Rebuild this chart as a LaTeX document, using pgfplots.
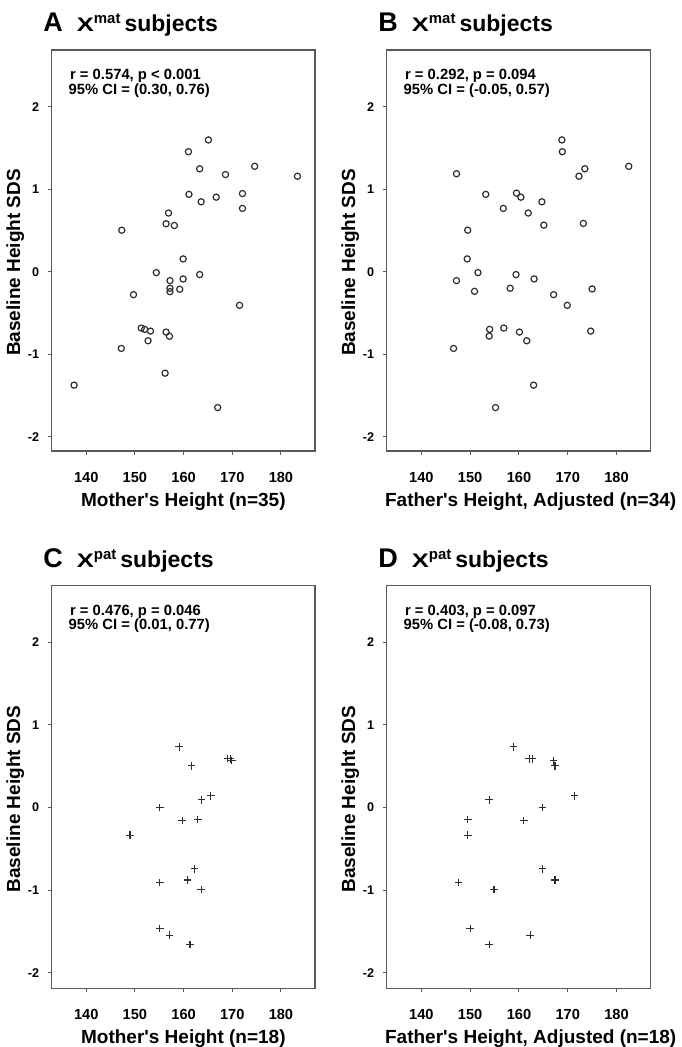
\documentclass[border=0pt]{standalone}
\usepackage{fontspec}
\setmainfont{Liberation Sans}
\usepackage{graphicx}
\usepackage{pgfplots}
\pgfplotsset{compat=1.18}

\definecolor{axgray}{HTML}{5A5A5A}
\definecolor{markgray}{HTML}{2E2E2E}

\newcommand{\paneltitle}[2]{%
  {\fontsize{13.5}{14}\selectfont #1}\hspace{7pt}%
  \scalebox{1.3}[1]{\fontsize{9.8}{10}\selectfont X}%
  \raisebox{4pt}{\fontsize{7.5}{8}\selectfont #2}\hspace{2pt}%
  {\fontsize{11.5}{12}\selectfont subjects}}

\pgfplotsset{
  panel/.style={
    scale only axis,
    anchor=south west,
    xmin=132.9, xmax=187,
    xtick={140,150,160,170,180},
    xticklabels={140,150,160,170,180},
    ytick={-2,-1,0,1,2},
    yticklabels={-2,-1,0,1,2},
    xtick pos=bottom, ytick pos=left,
    tick align=outside,
    major tick length=2pt,
    axis line style={axgray, line width=0.65pt},
    every tick/.style={axgray, line width=0.5pt},
    x tick label style={font=\fontsize{7.3}{8}\selectfont\bfseries, yshift=-5pt},
    y tick label style={font=\fontsize{6.3}{7}\selectfont\bfseries, xshift=-0.8pt},
    xlabel style={font=\fontsize{9.5}{11}\selectfont\bfseries,
      at={(axis description cs:0.5,0)}, anchor=base, yshift=-27.8pt},
    ylabel style={font=\fontsize{9.5}{11}\selectfont\bfseries,
      at={(axis description cs:0,0.47)}, anchor=base, yshift=15.8pt},
    ylabel={Baseline Height SDS},
    clip=false,
  },
  circ/.style={only marks, mark=o, mark size=1.55pt, color=markgray, line width=0.6pt},
  plus/.style={only marks, mark=+, mark size=1.9pt, color=markgray, line width=0.6pt},
}

\newcommand{\stats}[2]{%
  \node[anchor=base west, inner sep=0, xshift=9pt, yshift=-14.9pt,
    font=\fontsize{7.4}{8}\selectfont\bfseries] at (rel axis cs:0,1) {#1};
  \node[anchor=base west, inner sep=0, xshift=8.3pt, yshift=-22.1pt,
    font=\fontsize{7.4}{8}\selectfont\bfseries] at (rel axis cs:0,1) {#2};}

\newcommand{\ttl}[2]{%
  \node[anchor=base west, inner sep=0, xshift=-4.35pt, yshift=9pt,
    font=\bfseries] at (rel axis cs:0,1) {\paneltitle{#1}{#2}};}

\begin{document}
\begin{tikzpicture}
\path[use as bounding box] (0,0) rectangle (340.5pt,523.5pt);

% A
\begin{axis}[panel, at={(25.85pt,298pt)}, width=131.65pt, height=200.5pt,
  ymin=-2.17, ymax=2.69, xlabel={Mother\textquotesingle s Height (n=35)}]
\addplot[circ] coordinates {
(165.1,1.60)(161.0,1.457)(163.3,1.25)(168.6,1.18)(174.6,1.28)(183.4,1.16)
(161.1,0.94)(163.6,0.85)(166.7,0.906)(172.1,0.95)(172.1,0.77)(156.9,0.714)
(156.4,0.584)(158.1,0.563)(147.3,0.506)(159.9,0.158)(154.4,-0.008)(157.2,-0.105)
(159.9,-0.085)(163.3,-0.032)(157.2,-0.198)(157.2,-0.239)(159.2,-0.21)(149.7,-0.275)
(171.5,-0.405)(151.3,-0.68)(152.0,-0.696)(153.2,-0.717)(156.4,-0.729)(157.1,-0.78)
(152.7,-0.834)(147.2,-0.927)(156.2,-1.227)(137.5,-1.372)(167.0,-1.644)};
\stats{r = 0.574, p < 0.001}{95\% CI = (0.30, 0.76)}
\ttl{A}{mat}
\end{axis}

% B
\begin{axis}[panel, at={(193.35pt,298pt)}, width=132pt, height=200.5pt,
  ymin=-2.17, ymax=2.69, xlabel={Father\textquotesingle s Height, Adjusted (n=34)},
  xlabel style={xshift=6pt}]
\addplot[circ] coordinates {
(168.8,1.60)(168.9,1.457)(173.5,1.25)(172.3,1.16)(182.5,1.28)(147.2,1.19)
(153.2,0.94)(159.5,0.955)(160.4,0.906)(164.7,0.85)(156.8,0.77)(161.9,0.714)
(165.1,0.567)(173.2,0.588)(149.5,0.506)(149.4,0.158)(151.6,-0.008)(147.2,-0.105)
(159.4,-0.032)(163.1,-0.085)(158.2,-0.198)(150.9,-0.235)(167.1,-0.275)(169.9,-0.405)
(175.0,-0.206)(154.0,-0.696)(153.9,-0.777)(156.9,-0.68)(160.1,-0.729)(161.6,-0.834)
(174.7,-0.717)(146.6,-0.927)(163.0,-1.372)(155.2,-1.644)};
\stats{r = 0.292, p = 0.094}{95\% CI = (-0.05, 0.57)}
\ttl{B}{mat}
\end{axis}

% C
\begin{axis}[panel, at={(25.85pt,29.35pt)}, width=131.65pt, height=201.3pt,
  ymin=-2.19, ymax=2.685, xlabel={Mother\textquotesingle s Height (n=18)}]
\addplot[plus] coordinates {
(159.1,0.734)(161.6,0.504)(169.1,0.593)(169.6,0.589)(169.9,0.567)(163.7,0.093)
(165.6,0.141)(155.1,0.0)(159.7,-0.157)(162.9,-0.145)(149.0,-0.335)(162.2,-0.742)
(160.8,-0.879)(155.1,-0.911)(163.6,-0.992)(155.1,-1.468)(157.1,-1.548)(161.3,-1.661)};
\stats{r = 0.476, p = 0.046}{95\% CI = (0.01, 0.77)}
\ttl{C}{pat}
\end{axis}

% D
\begin{axis}[panel, at={(193.35pt,29.35pt)}, width=132pt, height=201.3pt,
  ymin=-2.19, ymax=2.685, xlabel={Father\textquotesingle s Height, Adjusted (n=18)},
  xlabel style={xshift=6pt}]
\addplot[plus] coordinates {
(158.9,0.734)(162.1,0.589)(162.7,0.589)(167.1,0.565)(167.4,0.504)(153.9,0.093)
(171.4,0.141)(164.8,0.0)(149.5,-0.145)(161.0,-0.157)(149.5,-0.335)(164.8,-0.742)
(167.4,-0.879)(147.6,-0.911)(154.9,-0.992)(150.0,-1.468)(162.3,-1.548)(153.9,-1.661)};
\stats{r = 0.403, p = 0.097}{95\% CI = (-0.08, 0.73)}
\ttl{D}{pat}
\end{axis}
\end{tikzpicture}
\end{document}
